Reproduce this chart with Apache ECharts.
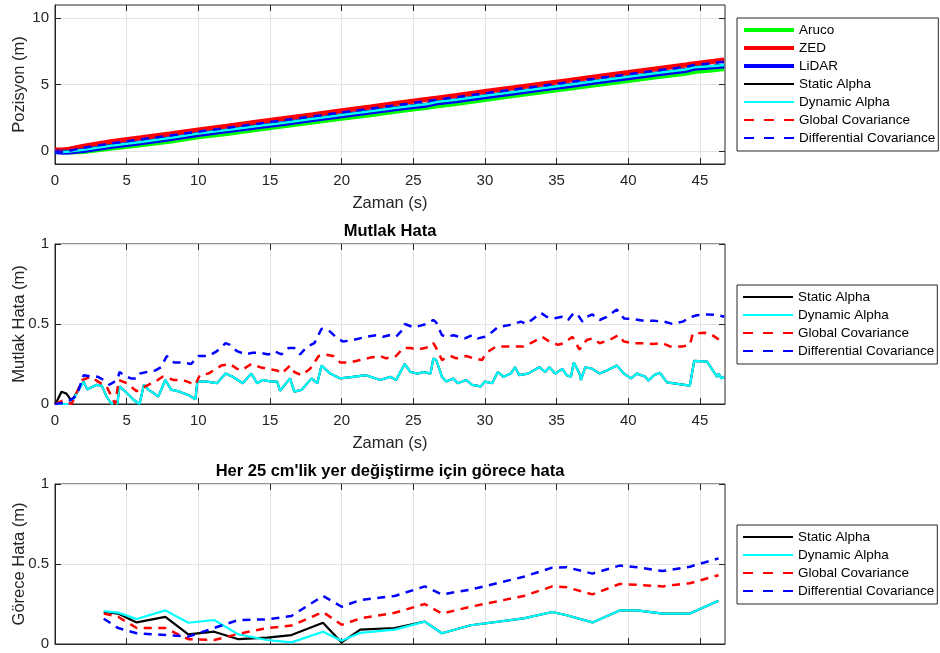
<!DOCTYPE html>
<html><head><meta charset="utf-8">
<script src="https://cdn.jsdelivr.net/npm/echarts@6/dist/echarts.min.js"></script>
<style>html,body{margin:0;padding:0;background:#fff}#c{width:940px;height:653px}</style>
</head><body><div id="c"></div>
<script>
// ---- tick labels ----
const xTicks = [0, 5, 10, 15, 20, 25, 30, 35, 40, 45];
const posTicks = [0, 5, 10];
const errTicks = [0, 0.5, 1];

// ---- Plot 1: position (m) vs time (s) ----
const tPos = [0, 0.5, 1, 2, 4, 6, 8, 10, 12, 14, 16, 18, 20, 22, 24, 26, 26.6, 28, 30, 32, 34, 36, 38, 40, 42, 44, 44.6, 46, 46.7];
const posAruco = [0, -0.05, -0.1, -0.05, 0.2, 0.45, 0.72, 1.05, 1.3, 1.6, 1.88, 2.17, 2.45, 2.72, 3.02, 3.28, 3.38, 3.57, 3.87, 4.16, 4.45, 4.73, 5.02, 5.3, 5.58, 5.85, 5.98, 6.12, 6.2];
const posZED = [0.05, 0.05, 0.12, 0.35, 0.7, 0.98, 1.27, 1.57, 1.86, 2.15, 2.44, 2.72, 3.02, 3.3, 3.6, 3.88, 3.97, 4.17, 4.47, 4.75, 5.04, 5.33, 5.62, 5.9, 6.19, 6.47, 6.57, 6.75, 6.85];
const posLiDAR = [-0.05, -0.12, -0.1, 0.02, 0.34, 0.6, 0.9, 1.22, 1.5, 1.79, 2.06, 2.36, 2.64, 2.92, 3.21, 3.46, 3.6, 3.78, 4.08, 4.36, 4.65, 4.93, 5.23, 5.51, 5.79, 6.06, 6.22, 6.33, 6.4];
const posStatic = [-0.05, -0.1, -0.05, 0.08, 0.4, 0.66, 0.96, 1.28, 1.56, 1.85, 2.12, 2.42, 2.7, 2.98, 3.27, 3.52, 3.68, 3.85, 4.15, 4.43, 4.72, 5.0, 5.3, 5.58, 5.86, 6.13, 6.3, 6.4, 6.48];
const posDynamic = [-0.05, -0.1, -0.05, 0.08, 0.4, 0.66, 0.96, 1.3, 1.56, 1.85, 2.12, 2.42, 2.7, 2.98, 3.27, 3.52, 3.68, 3.85, 4.15, 4.43, 4.72, 5.0, 5.3, 5.58, 5.86, 6.13, 6.3, 6.4, 6.48];
const posGlobal = [0, -0.02, 0.05, 0.28, 0.63, 0.92, 1.2, 1.5, 1.79, 2.08, 2.37, 2.65, 2.95, 3.23, 3.52, 3.8, 3.9, 4.1, 4.4, 4.68, 4.97, 5.26, 5.55, 5.83, 6.12, 6.4, 6.52, 6.68, 6.78];
const posDiff = [-0.05, -0.08, 0.0, 0.22, 0.57, 0.86, 1.15, 1.44, 1.73, 2.02, 2.31, 2.6, 2.89, 3.18, 3.47, 3.75, 3.85, 4.05, 4.34, 4.62, 4.91, 5.2, 5.49, 5.77, 6.06, 6.34, 6.47, 6.62, 6.72];

// ---- Plot 2: absolute error ----
const tDyn = [0, 0.5, 1.0, 1.16, 2.0, 2.25, 2.9, 3.26, 3.6, 3.95, 4.2, 4.35, 4.5, 5.0, 5.5, 5.9, 6.2, 6.5, 6.9, 7.2, 7.7, 8.1, 8.7, 9.3, 9.8, 9.93, 10.6, 11.3, 11.9, 12.4, 13.1, 13.7, 14.1, 14.5, 15.1, 15.5, 15.7, 16.4, 16.7, 17.2, 17.9, 18.3, 18.6, 19.2, 19.9, 20.8, 21.7, 22.7, 23.4, 23.8, 24.4, 24.8, 25.3, 25.7, 26.2, 26.4, 26.6, 27.0, 27.3, 27.8, 28.1, 28.7, 29.1, 29.7, 30.0, 30.5, 30.9, 31.3, 31.8, 32.1, 32.4, 33.0, 33.4, 33.8, 34.2, 34.5, 34.9, 35.4, 35.7, 36.0, 36.2, 36.6, 36.7, 37.0, 37.5, 38.0, 38.5, 39.2, 39.7, 40.2, 40.6, 41.2, 41.4, 41.8, 42.2, 42.7, 44.3, 44.6, 45.5, 45.9, 46.2, 46.3, 46.5, 46.7];
const errDyn = [0, 0, 0, 0.01, 0.14, 0.09, 0.12, 0.115, 0.046, 0, 0.015, 0, 0.11, 0.07, 0.025, 0, 0.12, 0.09, 0.067, 0.046, 0.15, 0.09, 0.077, 0.056, 0.03, 0.14, 0.14, 0.13, 0.19, 0.17, 0.13, 0.19, 0.13, 0.15, 0.14, 0.14, 0.083, 0.16, 0.077, 0.088, 0.16, 0.13, 0.24, 0.19, 0.16, 0.17, 0.18, 0.15, 0.17, 0.15, 0.25, 0.2, 0.19, 0.2, 0.19, 0.285, 0.275, 0.17, 0.14, 0.16, 0.13, 0.15, 0.12, 0.11, 0.14, 0.13, 0.2, 0.17, 0.19, 0.23, 0.18, 0.19, 0.21, 0.23, 0.2, 0.23, 0.19, 0.22, 0.18, 0.17, 0.26, 0.19, 0.15, 0.23, 0.22, 0.19, 0.21, 0.24, 0.19, 0.16, 0.19, 0.17, 0.146, 0.18, 0.196, 0.135, 0.115, 0.27, 0.265, 0.21, 0.17, 0.19, 0.16, 0.17];
// static alpha differs only at the start, then follows dynamic alpha
const tStatStart = [0, 0.2, 0.45, 0.8, 1.0, 1.16];
const errStatStart = [0, 0.03, 0.077, 0.065, 0.04, 0.02];
const tGlob = [0, 0.5, 1.16, 1.9, 2.5, 3.0, 3.6, 4.2, 4.45, 5.0, 5.7, 6.3, 7.0, 7.5, 8.3, 8.95, 9.5, 9.8, 10.1, 10.7, 11.6, 12.2, 12.7, 13.0, 13.7, 14.3, 14.8, 15.5, 15.8, 16.4, 16.7, 17.2, 17.8, 18.4, 18.8, 19.4, 19.9, 20.6, 21.3, 22.0, 22.7, 23.1, 23.8, 24.3, 24.8, 25.3, 25.8, 26.2, 26.4, 26.6, 27.0, 27.6, 28.0, 28.7, 29.2, 29.8, 30.1, 30.8, 31.5, 32.0, 32.7, 33.4, 34.0, 34.5, 35.1, 35.5, 36.1, 36.3, 36.6, 37.1, 37.5, 38.0, 38.7, 39.3, 39.7, 40.4, 41.1, 41.7, 42.4, 42.9, 43.8, 44.3, 44.5, 45.3, 45.7, 46.2, 46.7];
const errGlob = [0, 0.02, 0, 0.15, 0.17, 0.14, 0.11, 0, 0.15, 0.13, 0.08, 0.11, 0.14, 0.17, 0.15, 0.15, 0.13, 0.12, 0.18, 0.19, 0.24, 0.25, 0.22, 0.21, 0.25, 0.23, 0.22, 0.21, 0.19, 0.24, 0.2, 0.18, 0.22, 0.3, 0.31, 0.3, 0.26, 0.26, 0.275, 0.29, 0.3, 0.285, 0.3, 0.35, 0.35, 0.34, 0.35, 0.36, 0.38, 0.35, 0.275, 0.3, 0.285, 0.3, 0.285, 0.275, 0.32, 0.36, 0.36, 0.36, 0.36, 0.39, 0.42, 0.39, 0.37, 0.38, 0.42, 0.39, 0.34, 0.4, 0.41, 0.38, 0.4, 0.43, 0.39, 0.38, 0.38, 0.375, 0.38, 0.36, 0.36, 0.37, 0.44, 0.445, 0.44, 0.41, 0.38];
const tDiff = [0, 0.8, 1.5, 2.0, 2.6, 3.0, 3.4, 3.8, 4.35, 4.5, 5.0, 5.3, 5.7, 5.9, 6.4, 7.0, 7.4, 7.8, 8.3, 8.8, 9.5, 10.0, 10.7, 11.3, 11.9, 12.2, 12.7, 13.3, 13.8, 14.3, 14.9, 15.3, 15.8, 16.3, 16.7, 17.1, 17.6, 18.1, 18.6, 19.1, 19.7, 20.1, 20.8, 21.7, 22.4, 22.9, 23.3, 23.8, 24.2, 24.4, 25.0, 25.5, 25.9, 26.4, 26.6, 27.0, 27.3, 27.8, 28.2, 28.6, 29.1, 29.5, 30.0, 30.5, 30.9, 31.5, 32.0, 32.5, 32.9, 33.4, 33.9, 34.3, 34.8, 35.4, 35.8, 36.2, 36.5, 36.8, 37.1, 37.5, 38.0, 38.5, 39.2, 39.7, 40.4, 41.1, 41.8, 42.5, 43.1, 43.8, 44.4, 44.8, 45.5, 46.2, 46.7];
const errDiff = [0, 0.01, 0.05, 0.18, 0.17, 0.17, 0.15, 0.12, 0.15, 0.2, 0.17, 0.16, 0.16, 0.19, 0.2, 0.21, 0.23, 0.3, 0.26, 0.26, 0.25, 0.3, 0.3, 0.33, 0.38, 0.37, 0.33, 0.31, 0.32, 0.32, 0.31, 0.33, 0.31, 0.35, 0.35, 0.31, 0.36, 0.38, 0.47, 0.46, 0.41, 0.39, 0.4, 0.42, 0.43, 0.42, 0.43, 0.42, 0.46, 0.5, 0.48, 0.49, 0.5, 0.525, 0.51, 0.43, 0.42, 0.43, 0.42, 0.41, 0.43, 0.41, 0.42, 0.45, 0.48, 0.49, 0.5, 0.515, 0.5, 0.535, 0.57, 0.545, 0.535, 0.545, 0.525, 0.57, 0.555, 0.515, 0.545, 0.56, 0.525, 0.545, 0.59, 0.535, 0.53, 0.52, 0.52, 0.515, 0.5, 0.515, 0.545, 0.555, 0.56, 0.556, 0.545];

// ---- Plot 3: relative error per 25 cm displacement ----
const tRel = [3.4, 4.4, 5.7, 7.7, 9.3, 11.1, 12.8, 14.8, 16.5, 18.7, 20.0, 21.3, 23.7, 25.8, 27.0, 29.0, 32.7, 34.7, 35.7, 37.5, 39.4, 40.6, 42.4, 44.3, 46.3];
const relStatic = [0.2, 0.19, 0.135, 0.17, 0.06, 0.077, 0.03, 0.04, 0.056, 0.133, 0.01, 0.09, 0.1, 0.14, 0.067, 0.117, 0.16, 0.2, 0.18, 0.135, 0.21, 0.21, 0.19, 0.19, 0.27];
const relDynamic = [0.206, 0.196, 0.156, 0.21, 0.133, 0.15, 0.06, 0.025, 0.01, 0.077, 0.02, 0.07, 0.09, 0.14, 0.067, 0.117, 0.16, 0.2, 0.18, 0.135, 0.21, 0.21, 0.19, 0.19, 0.27];
const relGlobal = [0.19, 0.17, 0.1, 0.1, 0.03, 0.025, 0.063, 0.1, 0.115, 0.2, 0.12, 0.16, 0.195, 0.25, 0.19, 0.233, 0.3, 0.36, 0.355, 0.31, 0.375, 0.37, 0.36, 0.38, 0.43];
const relDiff = [0.158, 0.1, 0.067, 0.056, 0.046, 0.1, 0.15, 0.154, 0.175, 0.3, 0.233, 0.275, 0.3, 0.36, 0.31, 0.34, 0.42, 0.477, 0.48, 0.44, 0.49, 0.48, 0.456, 0.483, 0.535];

const FONT = 'Liberation Sans, Arial, Helvetica, sans-serif';
const AX = '#262626';
const GRIDC = '#e3e3e3';
const pair = (t, v) => t.map((x, i) => [x, v[i]]);

const grids = [
  { left: 55, top: 5, width: 670, height: 159 },
  { left: 55, top: 244, width: 670, height: 160 },
  { left: 55, top: 484, width: 670, height: 160 }
].map(g => Object.assign({ show: true, borderColor: AX, borderWidth: 1, backgroundColor: '#fff',
  containLabel: false, outerBoundsMode: 'none' }, g));

const xAxes = [], yAxes = [];
function addAxes(gi, yMin, yMax, yTicks, showXLabels, xName, yName) {
  xAxes.push({
    type: 'value', gridIndex: gi, min: 0, max: 46.75, interval: 5, position: 'bottom',
    axisLine: { show: true, onZero: false, lineStyle: { color: AX } },
    axisTick: { show: true, inside: true, length: 6, customValues: xTicks, lineStyle: { color: AX } },
    axisLabel: { show: showXLabels, customValues: xTicks, margin: 9, fontSize: 15, color: AX, fontFamily: FONT },
    splitLine: { show: true, lineStyle: { color: GRIDC, width: 1 } },
    name: xName, nameLocation: 'middle', nameGap: 31, nameMoveOverlap: false,
    nameTextStyle: { fontSize: 16.5, color: AX, fontFamily: FONT }
  });
  xAxes.push({
    type: 'value', gridIndex: gi, min: 0, max: 46.75, interval: 5, position: 'top',
    axisLine: { show: false, onZero: false },
    axisTick: { show: true, inside: true, length: 6, customValues: xTicks, lineStyle: { color: AX } },
    axisLabel: { show: false }, splitLine: { show: false }
  });
  yAxes.push({
    type: 'value', gridIndex: gi, min: yMin, max: yMax, position: 'left',
    axisLine: { show: true, onZero: false, lineStyle: { color: AX } },
    axisTick: { show: true, inside: true, length: 6, customValues: yTicks, lineStyle: { color: AX } },
    axisLabel: { show: true, customValues: yTicks, margin: 6, fontSize: 15, color: AX, fontFamily: FONT },
    splitLine: { show: true, lineStyle: { color: GRIDC, width: 1 } },
    name: yName, nameLocation: 'middle', nameGap: 27, nameRotate: 90, nameMoveOverlap: false,
    nameTextStyle: { fontSize: 16.5, color: AX, fontFamily: FONT }
  });
  yAxes.push({
    type: 'value', gridIndex: gi, min: yMin, max: yMax, position: 'right',
    axisLine: { show: false, onZero: false },
    axisTick: { show: true, inside: true, length: 6, customValues: yTicks, lineStyle: { color: AX } },
    axisLabel: { show: false }, splitLine: { show: false }
  });
}
addAxes(0, -1, 11, posTicks, true, 'Zaman (s)', 'Pozisyon (m)');
addAxes(1, 0, 1, errTicks, true, 'Zaman (s)', 'Mutlak Hata (m)');
addAxes(2, 0, 1, errTicks, false, '', 'Görece Hata (m)');

const DASH = [8, 6.5];
function line(name, gi, data, color, width, dashed) {
  return {
    type: 'line', name: name, xAxisIndex: gi * 2, yAxisIndex: gi * 2,
    data: data, showSymbol: false, symbol: 'none', animation: false, silent: true,
    lineStyle: { color: color, width: width, type: dashed ? DASH : 'solid' },
    itemStyle: { color: color }, clip: true
  };
}

const series = [
  line('Aruco', 0, pair(tPos, posAruco), '#00ff00', 5),
  line('ZED', 0, pair(tPos, posZED), '#ff0000', 5),
  line('LiDAR', 0, pair(tPos, posLiDAR), '#0000ff', 5),
  line('Static Alpha', 0, pair(tPos, posStatic), '#000000', 2.5),
  line('Dynamic Alpha', 0, pair(tPos, posDynamic), '#00ffff', 2.5),
  line('Global Covariance', 0, pair(tPos, posGlobal), '#ff0000', 2.5, true),
  line('Differential Covariance', 0, pair(tPos, posDiff), '#0000ff', 2.5, true),

  line('Static Alpha', 1, pair(tStatStart, errStatStart).concat(pair(tDyn, errDyn).slice(4)), '#000000', 2.2),
  line('Dynamic Alpha', 1, pair(tDyn, errDyn), '#00ffff', 2.2),
  line('Global Covariance', 1, pair(tGlob, errGlob), '#ff0000', 2.5, true),
  line('Differential Covariance', 1, pair(tDiff, errDiff), '#0000ff', 2.5, true),

  line('Static Alpha', 2, pair(tRel, relStatic), '#000000', 2.2),
  line('Dynamic Alpha', 2, pair(tRel, relDynamic), '#00ffff', 2.2),
  line('Global Covariance', 2, pair(tRel, relGlobal), '#ff0000', 2.5, true),
  line('Differential Covariance', 2, pair(tRel, relDiff), '#0000ff', 2.5, true)
];

const legendWidths = { 'Aruco': 4, 'ZED': 4, 'LiDAR': 4 };
function legItems(names) {
  return names.map(n => {
    const dashed = n.indexOf('Covariance') >= 0;
    return {
      name: n,
      itemStyle: { opacity: 0 },
      lineStyle: { width: legendWidths[n] || 2, type: dashed ? [10, 10] : 'solid' }
    };
  });
}
function legend(top, names) {
  return {
    show: true, orient: 'vertical', left: 737, top: top,
    data: legItems(names), itemWidth: 50, itemHeight: 14, itemGap: 4,
    padding: [5, 3, 6, 5], borderColor: AX, borderWidth: 1, backgroundColor: '#fff',
    selectedMode: false, inactiveColor: '#000',
    itemStyle: { opacity: 0 },
    textStyle: { fontSize: 13.5, color: '#000', fontFamily: FONT }
  };
}
const legendAll = ['Aruco', 'ZED', 'LiDAR', 'Static Alpha', 'Dynamic Alpha', 'Global Covariance', 'Differential Covariance'];
const legendErr = ['Static Alpha', 'Dynamic Alpha', 'Global Covariance', 'Differential Covariance'];

const option = {
  backgroundColor: '#fff',
  animation: false,
  title: [
    { text: 'Mutlak Hata', left: 390, top: 223, textAlign: 'center', padding: 0,
      textStyle: { fontSize: 16.5, fontWeight: 'bold', color: '#000', fontFamily: FONT } },
    { text: "Her 25 cm'lik yer değiştirme için görece hata", left: 390, top: 463, textAlign: 'center', padding: 0,
      textStyle: { fontSize: 16.5, fontWeight: 'bold', color: '#000', fontFamily: FONT } }
  ],
  grid: grids,
  xAxis: xAxes,
  yAxis: yAxes,
  legend: [legend(18, legendAll), legend(285, legendErr), legend(525, legendErr)],
  series: series
};

const chart = echarts.init(document.getElementById('c'), null, { renderer: 'canvas' });
chart.setOption(option);
</script>
</body></html>
